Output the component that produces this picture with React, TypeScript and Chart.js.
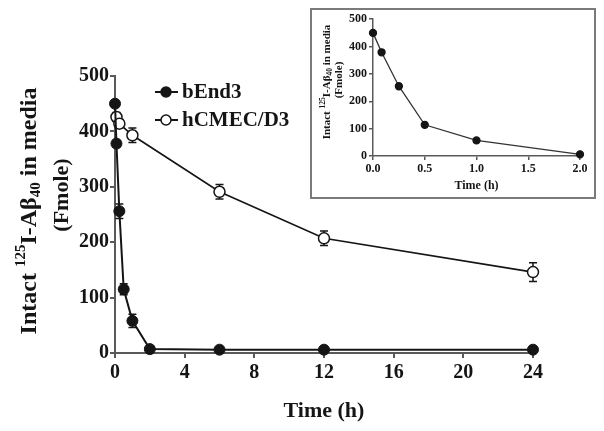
import React, { useEffect, useRef } from "react";
import { Chart, registerables } from "chart.js";
Chart.register(...registerables);

// ---------- data ----------
const bEnd3Time = [0, 0.083, 0.25, 0.5, 1, 2, 6, 12, 24];
const bEnd3Value = [450, 378, 256, 115, 58, 7, 6, 6, 6];
const bEnd3Err = [6, 6, 13, 10, 12, 3, 2, 2, 2];

const hcmecTime = [0.083, 0.25, 1, 6, 12, 24];
const hcmecValue = [426, 414, 393, 291, 207, 146];
const hcmecErr = [8, 8, 13, 13, 13, 17];

const mainXTicks = [0, 4, 8, 12, 16, 20, 24];
const mainYTicks = [0, 100, 200, 300, 400, 500];

const insetTime = [0, 0.083, 0.25, 0.5, 1, 2];
const insetValue = [450, 379, 255, 114, 57, 6];
const insetErr = [5, 6, 10, 10, 8, 3];

const insetXTicks = [0, 0.5, 1, 1.5, 2];
const insetYTicks = [0, 100, 200, 300, 400, 500];

const legendLabels = ["bEnd3", "hCMEC/D3"];

const SERIF = '"Liberation Serif", "Times New Roman", serif';
const INK = "#151515";
const AXIS = "#5a5a5a";

function pts(xs: number[], ys: number[]) {
  return xs.map((x, i) => ({ x, y: ys[i] }));
}

function errorBarPlugin(errs: number[][], cap: number, lw: number) {
  return {
    id: "errbars",
    beforeDatasetsDraw(chart: any) {
      const ctx = chart.ctx;
      const xs = chart.scales.x;
      const ys = chart.scales.y;
      ctx.save();
      ctx.strokeStyle = INK;
      ctx.lineWidth = lw;
      chart.data.datasets.forEach((ds: any, di: number) => {
        const e = errs[di];
        if (!e) return;
        ds.data.forEach((p: any, i: number) => {
          const px = xs.getPixelForValue(p.x);
          const top = ys.getPixelForValue(p.y + e[i]);
          const bot = ys.getPixelForValue(Math.max(0, p.y - e[i]));
          ctx.beginPath();
          ctx.moveTo(px, top);
          ctx.lineTo(px, bot);
          ctx.moveTo(px - cap / 2, top);
          ctx.lineTo(px + cap / 2, top);
          ctx.moveTo(px - cap / 2, bot);
          ctx.lineTo(px + cap / 2, bot);
          ctx.stroke();
        });
      });
      ctx.restore();
    },
  };
}

type Part = { t: string; size: number; dy: number };

function drawRotated(ctx: CanvasRenderingContext2D, parts: Part[], cx: number, cy: number) {
  ctx.save();
  ctx.translate(cx, cy);
  ctx.rotate(-Math.PI / 2);
  let total = 0;
  const widths = parts.map((p) => {
    ctx.font = `bold ${p.size}px ${SERIF}`;
    const w = ctx.measureText(p.t).width;
    total += w;
    return w;
  });
  let x = -total / 2;
  ctx.textBaseline = "middle";
  ctx.textAlign = "left";
  ctx.fillStyle = INK;
  parts.forEach((p, i) => {
    ctx.font = `bold ${p.size}px ${SERIF}`;
    ctx.fillText(p.t, x, p.dy);
    x += widths[i];
  });
  ctx.restore();
}

function titleParts(big: number, small: number, up: number, down: number): Part[] {
  return [
    { t: "Intact ", size: big, dy: 0 },
    { t: "125", size: small, dy: -up },
    { t: "I-A\u03B2", size: big, dy: 0 },
    { t: "40", size: small, dy: down },
    { t: " in media", size: big, dy: 0 },
  ];
}

const mainDecor = {
  id: "mainDecor",
  afterDraw(chart: any) {
    const ctx = chart.ctx as CanvasRenderingContext2D;
    const ca = chart.chartArea;
    // y title
    drawRotated(ctx, titleParts(24, 15, 9, 6), 30, 211);
    drawRotated(ctx, [{ t: "(Fmole)", size: 22, dy: 0 }], 62, 195);
    // x title
    ctx.save();
    ctx.font = `bold 22px ${SERIF}`;
    ctx.fillStyle = INK;
    ctx.textAlign = "center";
    ctx.textBaseline = "middle";
    ctx.fillText("Time (h)", (ca.left + ca.right) / 2, 411);
    ctx.restore();
    // legend
    ctx.save();
    legendLabels.forEach((lab, i) => {
      const y = 92 + i * 28;
      ctx.strokeStyle = INK;
      ctx.lineWidth = 2;
      ctx.beginPath();
      ctx.moveTo(155, y);
      ctx.lineTo(178, y);
      ctx.stroke();
      ctx.beginPath();
      ctx.arc(166, y, 5, 0, Math.PI * 2);
      ctx.fillStyle = i === 0 ? INK : "#fff";
      ctx.fill();
      ctx.lineWidth = 1.5;
      ctx.stroke();
      ctx.font = `bold 21px ${SERIF}`;
      ctx.fillStyle = INK;
      ctx.textAlign = "left";
      ctx.textBaseline = "middle";
      ctx.fillText(lab, 182, y + 1);
    });
    ctx.restore();
  },
};

const insetDecor = {
  id: "insetDecor",
  afterDraw(chart: any) {
    const ctx = chart.ctx as CanvasRenderingContext2D;
    const ca = chart.chartArea;
    drawRotated(ctx, titleParts(11, 7.5, 4, 3), 15, 72);
    drawRotated(ctx, [{ t: "(Fmole)", size: 11, dy: 0 }], 27, 70);
    ctx.save();
    ctx.font = `bold 12px ${SERIF}`;
    ctx.fillStyle = INK;
    ctx.textAlign = "center";
    ctx.textBaseline = "middle";
    ctx.fillText("Time (h)", (ca.left + ca.right) / 2, 176);
    ctx.restore();
  },
};

function axisCommon(fontSize: number, tickLen: number, pad: number, lw: number) {
  return {
    grid: {
      drawOnChartArea: false,
      drawTicks: true,
      tickLength: tickLen,
      color: AXIS,
      lineWidth: lw,
    },
    border: { display: true, color: AXIS, width: lw },
    ticks: {
      color: INK,
      font: { family: SERIF, size: fontSize, weight: "bold" as const },
      padding: pad,
      maxRotation: 0,
      autoSkip: false,
    },
  };
}

export default function App() {
  const mainRef = useRef<HTMLCanvasElement>(null);
  const insetRef = useRef<HTMLCanvasElement>(null);

  useEffect(() => {
    const xMain = axisCommon(20, 5, 3, 2);
    const yMain = axisCommon(20, 5, 1, 2);
    const main = new Chart(mainRef.current!, {
      type: "line",
      data: {
        datasets: [
          {
            label: legendLabels[0],
            data: pts(bEnd3Time, bEnd3Value),
            borderColor: INK,
            borderWidth: 2,
            backgroundColor: INK,
            pointBackgroundColor: INK,
            pointBorderColor: INK,
            pointRadius: 5.5,
            pointBorderWidth: 1,
            tension: 0,
            clip: false as any,
          },
          {
            label: legendLabels[1],
            data: pts(hcmecTime, hcmecValue),
            borderColor: INK,
            borderWidth: 1.6,
            backgroundColor: "#fff",
            pointBackgroundColor: "#fff",
            pointBorderColor: INK,
            pointRadius: 5.5,
            pointBorderWidth: 1.5,
            tension: 0,
            clip: false as any,
          },
        ],
      },
      options: {
        responsive: false,
        animation: false,
        devicePixelRatio: 1,
        layout: { padding: { left: 0, right: 71, top: 76, bottom: 0 } },
        plugins: { legend: { display: false }, tooltip: { enabled: false } },
        scales: {
          x: {
            type: "linear",
            min: 0,
            max: 24,
            ...xMain,
            afterBuildTicks: (s: any) => {
              s.ticks = mainXTicks.map((v) => ({ value: v }));
            },
            afterFit: (s: any) => {
              s.height = 78;
            },
          } as any,
          y: {
            type: "linear",
            min: 0,
            max: 500,
            ...yMain,
            afterBuildTicks: (s: any) => {
              s.ticks = mainYTicks.map((v) => ({ value: v }));
            },
            afterFit: (s: any) => {
              s.width = 115;
            },
          } as any,
        },
      },
      plugins: [errorBarPlugin([bEnd3Err, hcmecErr], 8, 1.5), mainDecor],
    });

    const xIn = axisCommon(12, 4, 2, 1.5);
    const yIn = axisCommon(12, 4, 2, 1.5);
    const inset = new Chart(insetRef.current!, {
      type: "line",
      data: {
        datasets: [
          {
            label: legendLabels[0],
            data: pts(insetTime, insetValue),
            borderColor: "#333",
            borderWidth: 1.3,
            pointBackgroundColor: INK,
            pointBorderColor: INK,
            pointRadius: 3.5,
            tension: 0,
            clip: false as any,
          },
        ],
      },
      options: {
        responsive: false,
        animation: false,
        devicePixelRatio: 1,
        layout: { padding: { left: 0, right: 14, top: 8, bottom: 0 } },
        plugins: { legend: { display: false }, tooltip: { enabled: false } },
        scales: {
          x: {
            type: "linear",
            min: 0,
            max: 2,
            ...xIn,
            ticks: { ...xIn.ticks, callback: (v: any) => Number(v).toFixed(1) },
            afterBuildTicks: (s: any) => {
              s.ticks = insetXTicks.map((v) => ({ value: v }));
            },
            afterFit: (s: any) => {
              s.height = 41;
            },
          } as any,
          y: {
            type: "linear",
            min: 0,
            max: 500,
            ...yIn,
            afterBuildTicks: (s: any) => {
              s.ticks = insetYTicks.map((v) => ({ value: v }));
            },
            afterFit: (s: any) => {
              s.width = 61;
            },
          } as any,
        },
      },
      plugins: [errorBarPlugin([insetErr], 5, 1), insetDecor],
    });

    return () => {
      main.destroy();
      inset.destroy();
    };
  }, []);

  return (
    <div style={{ position: "absolute", left: 0, top: 0, width: 604, height: 431, background: "#fff" }}>
      <canvas ref={mainRef} width={604} height={431} style={{ position: "absolute", left: 0, top: 0 }} />
      <div
        style={{
          position: "absolute",
          left: 310,
          top: 8,
          width: 286,
          height: 191,
          boxSizing: "border-box",
          border: "2px solid #7a7a7a",
          background: "#fff",
        }}
      >
        <canvas ref={insetRef} width={282} height={187} style={{ display: "block" }} />
      </div>
    </div>
  );
}
